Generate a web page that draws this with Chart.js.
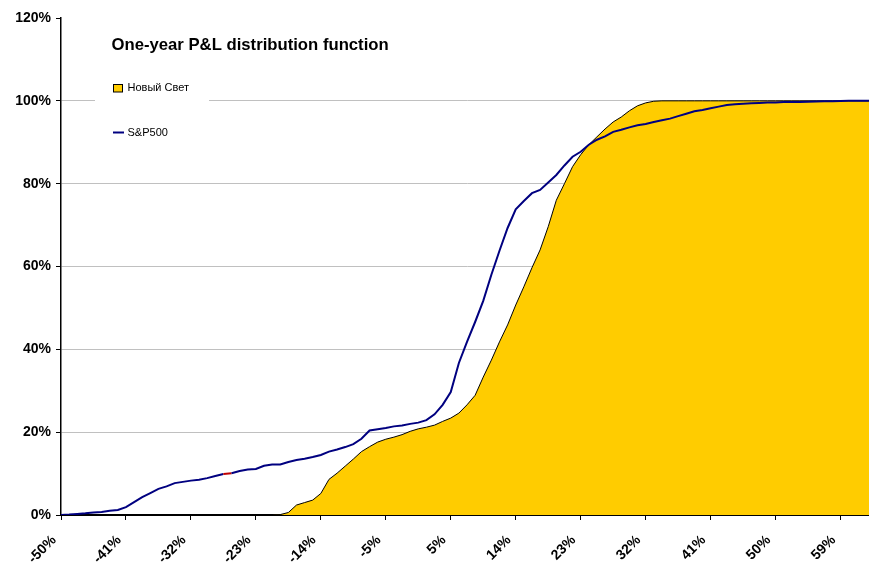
<!DOCTYPE html>
<html>
<head>
<meta charset="utf-8">
<script src="https://cdn.jsdelivr.net/npm/chart.js@4.4.1/dist/chart.umd.min.js"></script>
<style>
  html, body { margin: 0; padding: 0; overflow: hidden; background: #fff; }
  #wrap { width: 869px; height: 562px; overflow: hidden; position: relative; }
  canvas { display: block; }
</style>
</head>
<body>
<div id="wrap"><canvas id="c" width="876" height="562"></canvas></div>
<script>
const TITLE = 'One-year P&L distribution function';
const seriesNames = ['Новый Свет', 'S&P500'];
// x categories: P&L from -50% in steps of 1.1375%
const categories = Array.from({length: 101}, (_, i) => (-50 + i * 1.1375).toFixed(2) + '%');
// labels shown every 8th category
const tickLabels = ['-50%', '-41%', '-32%', '-23%', '-14%', '-5%', '5%', '14%', '23%', '32%', '41%', '50%', '59%'];
const yTicks = [0, 20, 40, 60, 80, 100, 120];

const novySvet = [
  0, 0, 0, 0, 0, 0, 0, 0, 0, 0,
  0, 0, 0, 0, 0, 0, 0, 0, 0, 0,
  0, 0, 0, 0, 0, 0, 0, 0.1, 0.6, 2.4,
  3.0, 3.6, 5.2, 8.6, 10.1, 11.8, 13.5, 15.3, 16.5, 17.6,
  18.3, 18.8, 19.4, 20.2, 20.8, 21.2, 21.7, 22.6, 23.4, 24.6,
  26.6, 28.9, 33.3, 37.4, 41.8, 45.9, 50.7, 55.1, 59.7, 64.0,
  69.6, 76.0, 80.0, 84.1, 87.0, 89.4, 91.3, 93.2, 94.9, 96.1,
  97.6, 98.8, 99.5, 99.9, 100, 100, 100, 100, 100, 100,
  100, 100, 100, 100, 100, 100, 100, 100, 100, 100,
  100, 100, 100, 100, 100, 100, 100, 100, 100, 100,
  100
];
const sp500 = [
  0, 0.1, 0.25, 0.4, 0.6, 0.75, 1.0, 1.2, 1.9, 3.1,
  4.3, 5.3, 6.3, 6.9, 7.7, 8.0, 8.3, 8.5, 8.9, 9.4,
  9.9, 10.1, 10.6, 11.0, 11.1, 11.9, 12.2, 12.2, 12.8, 13.3,
  13.6, 14.0, 14.5, 15.3, 15.8, 16.4, 17.1, 18.4, 20.4, 20.7,
  21.0, 21.4, 21.6, 22.0, 22.3, 22.9, 24.3, 26.6, 29.7, 36.7,
  41.8, 46.6, 51.7, 58.0, 63.8, 69.3, 73.8, 75.8, 77.7, 78.5,
  80.3, 82.1, 84.4, 86.5, 87.7, 89.4, 90.6, 91.4, 92.5, 93.0,
  93.6, 94.1, 94.4, 94.9, 95.3, 95.7, 96.3, 96.9, 97.5, 97.8,
  98.2, 98.6, 99.0, 99.2, 99.3, 99.4, 99.5, 99.6, 99.6, 99.7,
  99.7, 99.7, 99.8, 99.85, 99.9, 99.9, 99.95, 100, 100, 100,
  100
];

const FONT = '"Liberation Sans", Arial, sans-serif';
const YELLOW = '#FFCC00';
const NAVY = '#000080';

const overlay = {
  id: 'overlay',
  afterDraw(chart) {
    const ctx = chart.ctx;
    ctx.save();
    // legend background
    ctx.fillStyle = '#ffffff';
    ctx.fillRect(95, 68, 114, 82);
    // title
    ctx.fillStyle = '#000';
    ctx.font = 'bold 16.7px ' + FONT;
    ctx.textAlign = 'left';
    ctx.textBaseline = 'alphabetic';
    ctx.fillText(TITLE, 111.5, 50);
    // legend entries
    const ds = chart.data.datasets;
    ctx.font = '11px ' + FONT;
    ctx.textBaseline = 'middle';
    ctx.fillStyle = ds[0].backgroundColor;
    ctx.fillRect(113.5, 84, 9, 8);
    ctx.strokeStyle = '#000';
    ctx.lineWidth = 1;
    ctx.strokeRect(113.5, 84.5, 9, 7.5);
    ctx.fillStyle = '#000';
    ctx.fillText(ds[0].label, 127.5, 88);
    ctx.strokeStyle = ds[1].borderColor;
    ctx.lineWidth = 2;
    ctx.beginPath();
    ctx.moveTo(113, 132.5);
    ctx.lineTo(124, 132.5);
    ctx.stroke();
    ctx.fillStyle = '#000';
    ctx.fillText(ds[1].label, 127.5, 132.5);
    ctx.restore();
  }
};

new Chart(document.getElementById('c'), {
  type: 'line',
  data: {
    labels: categories,
    datasets: [
      {
        label: seriesNames[0],
        data: novySvet,
        fill: 'origin',
        backgroundColor: YELLOW,
        borderColor: '#000',
        borderWidth: 1,
        pointRadius: 0,
        tension: 0,
        order: 2
      },
      {
        label: seriesNames[1],
        data: sp500,
        fill: false,
        borderColor: NAVY,
        borderWidth: 2,
        pointRadius: 0,
        tension: 0,
        order: 1,
        segment: {
          borderColor: c => c.p0DataIndex === 20 ? '#C00000' : undefined
        }
      }
    ]
  },
  options: {
    responsive: false,
    animation: false,
    layout: { padding: { left: 0, top: 18, right: 3, bottom: 0 } },
    plugins: {
      legend: { display: false },
      title: { display: false },
      tooltip: { enabled: false }
    },
    scales: {
      x: {
        z: 1,
        offset: false,
        afterFit: s => { s.height = 47; },
        border: { display: true, color: '#000', width: 2 },
        grid: {
          drawOnChartArea: false,
          drawTicks: true,
          tickLength: 5,
          tickColor: '#000',
          color: '#000'
        },
        ticks: {
          autoSkip: false,
          maxRotation: 45,
          minRotation: 45,
          padding: 12,
          labelOffset: -7,
          color: '#000',
          font: { family: FONT, size: 14, weight: 'bold' },
          callback: (v, i) => (i % 8 === 0 && tickLabels[i / 8] !== undefined) ? tickLabels[i / 8] : null
        }
      },
      y: {
        min: 0,
        max: 120,
        afterFit: s => { s.width = 61; },
        afterBuildTicks: s => { s.ticks = yTicks.map(v => ({ value: v })); },
        border: { display: true, color: '#000', width: 1.5 },
        grid: {
          color: c => (c.tick && (c.tick.value === 120 || c.tick.value === 0)) ? 'rgba(0,0,0,0)' : '#C0C0C0',
          lineWidth: 1,
          tickLength: 5,
          tickColor: '#000'
        },
        ticks: {
          stepSize: 20,
          padding: 5,
          color: '#000',
          font: { family: FONT, size: 14, weight: 'bold' },
          callback: v => v + '%'
        }
      }
    }
  },
  plugins: [overlay]
});
</script>
</body>
</html>
